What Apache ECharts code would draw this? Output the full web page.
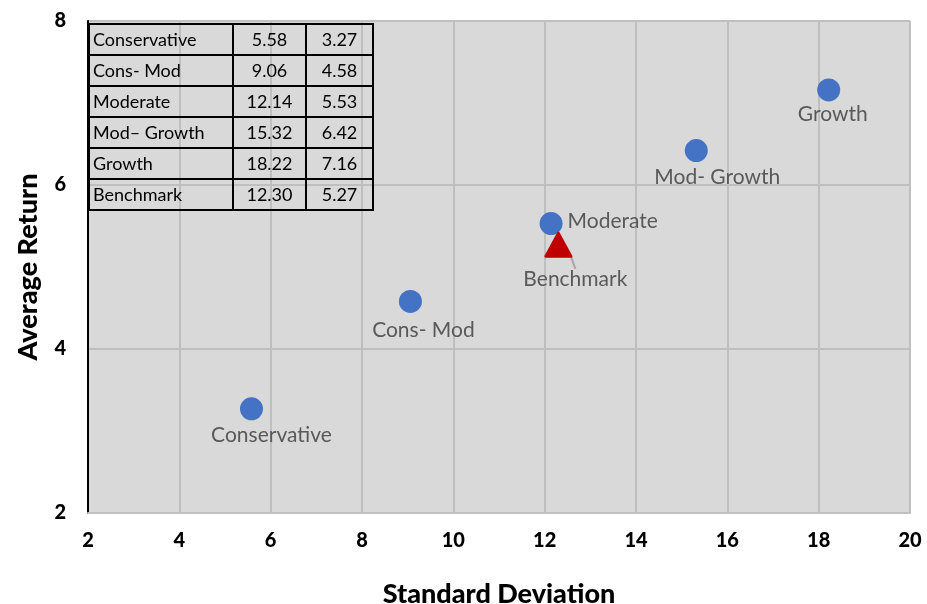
<!doctype html>
<html lang="en">
 <head>
  <meta charset="UTF-8">
  <style type="text/css">
  body{margin:0;background:#fff;}
  #wrap{position:relative;width:927px;height:604px;}
  #ecm1{width:927px;height:604px;}
  #tbl{position:absolute;left:88px;top:23px;border-collapse:collapse;font-family:Lato,"Noto Sans",sans-serif;font-size:18px;color:#000;}
  #tbl td{border:2px solid #000;height:29px;padding:0 3px;line-height:29px;box-sizing:border-box;}
  #tbl td.n{text-align:center;}
  </style>
  <script src="https://cdn.jsdelivr.net/npm/echarts@6/dist/echarts.min.js"></script>
  <title>Risk vs Return</title>
 </head>
 <body>
  <div id="wrap">
    <div id="ecm1"></div>
    <table id="tbl"></table>
  </div>
  <script type="text/javascript">
    var names = ['Conservative', 'Cons- Mod', 'Moderate', 'Mod\u2013 Growth', 'Growth', 'Benchmark'];
    var labels = ['Conservative', 'Cons- Mod', 'Moderate', 'Mod- Growth', 'Growth'];
    var stdDev = [5.58, 9.06, 12.14, 15.32, 18.22, 12.30];
    var avgRet = [3.27, 4.58, 5.53, 6.42, 7.16, 5.27];
    var stdText = ['5.58', '9.06', '12.14', '15.32', '18.22', '12.30'];
    var retText = ['3.27', '4.58', '5.53', '6.42', '7.16', '5.27'];

    // table in the top-left corner
    var html = '';
    for (var i = 0; i < names.length; i++) {
        html += '<tr><td style="width:144px">' + names[i] + '</td><td class="n" style="width:73px">' + stdText[i] +
            '</td><td class="n" style="width:67px">' + retText[i] + '</td></tr>';
    }
    document.getElementById('tbl').innerHTML = html;

    // label offsets for each point (style only)
    var offs = [[20, 0], [13, 3], [0, 0], [21, 1], [4, -2]];
    var pts = [];
    for (var i = 0; i < 5; i++) {
        var lb = {show: true, formatter: labels[i], position: 'bottom', distance: 4, offset: offs[i]};
        if (i == 2) { lb = {show: true, formatter: labels[i], position: 'right', distance: 5, offset: [0, -2]}; }
        pts.push({value: [stdDev[i], avgRet[i]], label: lb});
    }

    var myChart = echarts.init(document.getElementById('ecm1'));
    var option1 = {
        animation: false,
        grid: {left: 88, right: 17, top: 21, bottom: 91, show: true, backgroundColor: '#d9d9d9', borderWidth: 0,
            containLabel: false, outerBoundsMode: 'none'},
        xAxis: {
            type: 'value', min: 2, max: 20, interval: 2,
            name: 'Standard Deviation', nameLocation: 'middle', nameGap: 68,
            nameTextStyle: {fontFamily: 'Lato', fontWeight: 900, fontSize: 27, color: '#000'},
            axisLine: {show: true, lineStyle: {color: '#bfbfbf', width: 2}},
            axisTick: {show: false},
            axisLabel: {fontFamily: 'Lato', fontWeight: 900, fontSize: 20, color: '#000', margin: 18},
            splitLine: {lineStyle: {color: '#bfbfbf', width: 2}}
        },
        yAxis: {
            type: 'value', min: 2, max: 8, interval: 2,
            name: 'Average Return', nameLocation: 'middle', nameGap: 46,
            nameTextStyle: {fontFamily: 'Lato', fontWeight: 900, fontSize: 27, color: '#000'},
            axisLine: {show: true, lineStyle: {color: '#000', width: 2}},
            axisTick: {show: false},
            axisLabel: {fontFamily: 'Lato', fontWeight: 900, fontSize: 20, color: '#000', margin: 22},
            splitLine: {lineStyle: {color: '#bfbfbf', width: 2}}
        },
        series: [
            {
                type: 'scatter', symbol: 'circle', symbolSize: 23,
                itemStyle: {color: '#4472c4', opacity: 1},
                label: {color: '#595959', fontFamily: 'Lato', fontSize: 21},
                data: pts
            },
            {
                type: 'scatter', symbol: 'triangle', symbolSize: [25, 23],
                itemStyle: {color: '#c00000', opacity: 1, borderColor: '#c00000', borderWidth: 3, borderJoin: 'round'},
                label: {show: true, formatter: 'Benchmark', position: 'bottom', color: '#595959', fontFamily: 'Lato', fontSize: 21},
                labelLayout: {dx: 17, dy: 6},
                labelLine: {show: true, lineStyle: {color: '#a6a6a6', width: 2}},
                data: [[stdDev[5], avgRet[5]]]
            }
        ]
    };
    myChart.setOption(option1);
  </script>
 </body>
</html>
